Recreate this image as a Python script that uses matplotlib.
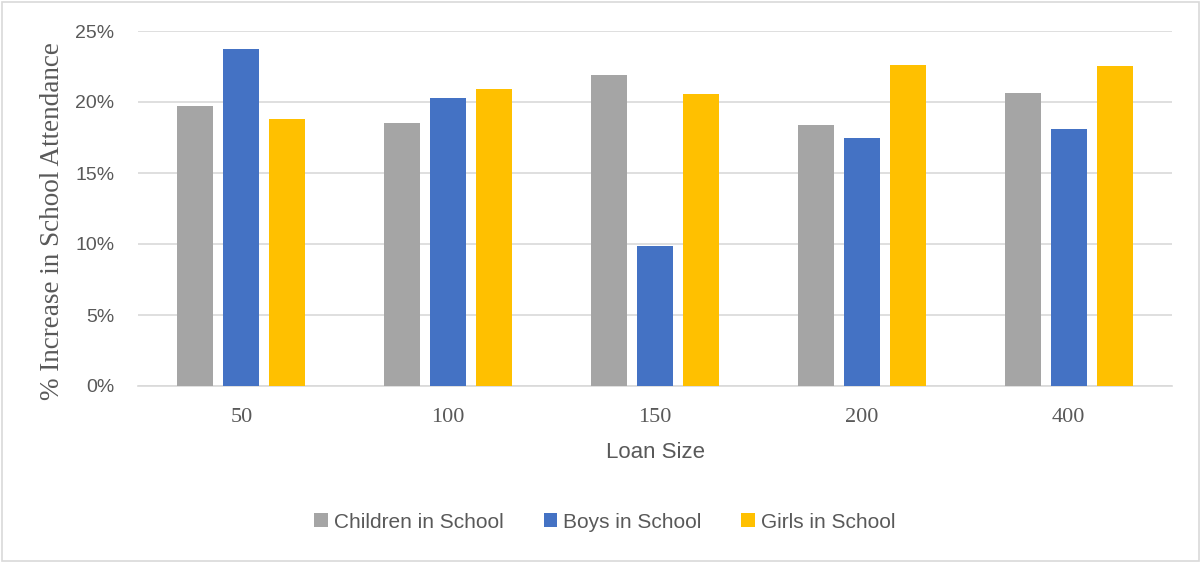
import matplotlib
matplotlib.use("Agg")
import matplotlib.pyplot as plt
import numpy as np
from matplotlib.ticker import PercentFormatter
from matplotlib.patches import Rectangle

categories = ["50", "100", "150", "200", "400"]
children = [19.7, 18.5, 21.9, 18.4, 20.6]
boys = [23.7, 20.3, 9.85, 17.45, 18.1]
girls = [18.8, 20.95, 20.55, 22.6, 22.55]
series_names = ["Children in School", "Boys in School", "Girls in School"]
colors = ["#A5A5A5", "#4472C4", "#FFC000"]
yticks = [0, 5, 10, 15, 20, 25]

fig = plt.figure(figsize=(12.01, 5.62), dpi=100)
ax = fig.add_axes([138/1201, 1-386/562, (1172-138)/1201, (386-31)/562])

x = np.arange(len(categories))
w = 0.174
step = 0.2224
for i, (vals, name, c) in enumerate(zip([children, boys, girls], series_names, colors)):
    ax.bar(x + (i-1)*step, vals, width=w, color=c, label=name, zorder=3)

ax.set_xlim(-0.5, len(categories)-0.5)
ax.set_ylim(0, 25)
ax.set_yticks(yticks)
ax.yaxis.set_major_formatter(PercentFormatter(decimals=0))
ax.grid(axis="y", color="#D9D9D9", linewidth=1.2, zorder=0)
for s in ["top", "right", "left"]:
    ax.spines[s].set_visible(False)
ax.spines["bottom"].set_color("#D9D9D9")
ax.spines["bottom"].set_linewidth(1.2)
ax.tick_params(axis="both", length=0)
ax.tick_params(axis="y", pad=17, labelcolor="#595959", labelsize=14)
for lbl in ax.get_yticklabels():
    lbl.set_family("Liberation Sans")
ax.set_xticks(x)
ax.set_xticklabels(categories, family="Liberation Serif", fontsize=16, color="#595959")
ax.tick_params(axis="x", pad=16)

fig.text(655/1201, 1-453/562, "Loan Size", ha="center", va="center",
         family="Liberation Sans", fontsize=16, color="#595959")
fig.text(53/1201, 1-221/562, "% Increase in School Attendance", rotation=90,
         ha="center", va="center", family="Liberation Serif", fontsize=19.5, color="#595959")

leg = fig.legend(loc="center", bbox_to_anchor=(605/1201, 1-522/562), ncol=3, frameon=False,
                 prop={"family": "Liberation Sans", "size": 15}, handlelength=0.65,
                 handleheight=0.65, columnspacing=1.9, handletextpad=0.3)
for t in leg.get_texts():
    t.set_color("#595959")

fig.patches.append(Rectangle((0.002, 0.002), 0.996, 0.995, transform=fig.transFigure,
                             fill=False, edgecolor="#D9D9D9", linewidth=1.2))

fig.savefig("out.png", dpi=100)
